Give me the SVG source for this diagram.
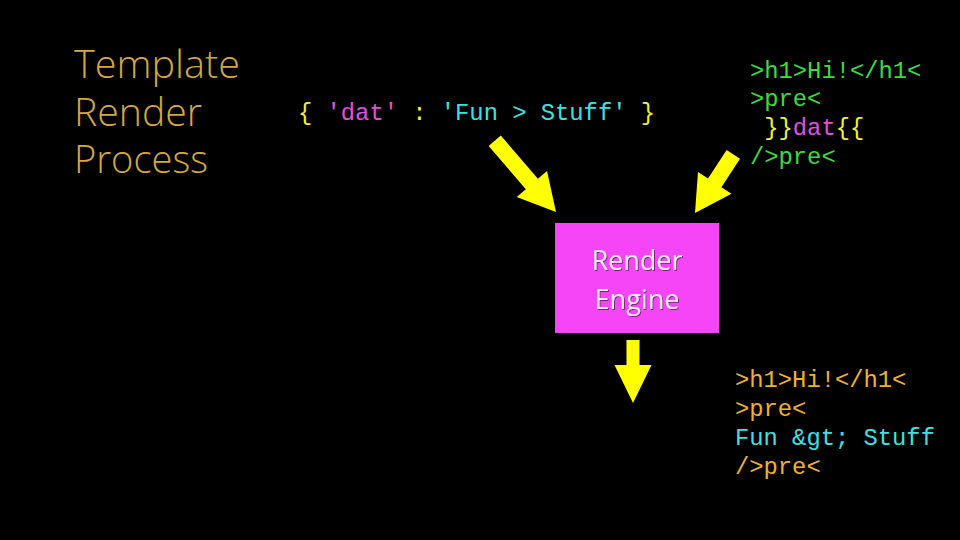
<svg xmlns="http://www.w3.org/2000/svg" width="960" height="540" viewBox="0 0 960 540">
<style>
.title{font-family:"Open Sans","Noto Sans",sans-serif;font-weight:300;font-size:39px;fill:#d4a83c}
.code{font-family:"Liberation Mono","DejaVu Sans Mono",monospace;font-size:23.8px}
.y{fill:#f0f03c}.p{fill:#e050e0}.c{fill:#40e0e0}.g{fill:#3cdc3c}.o{fill:#f0b030}
.box{fill:#f645f6}
.bt{font-family:"Open Sans","Noto Sans",sans-serif;font-size:27px;fill:#f8e8f8;text-anchor:middle}
.arrow{fill:#ffff00}
</style>
<defs>
<filter id="sh" x="-10%" y="-10%" width="120%" height="130%"><feDropShadow dx="1" dy="1" stdDeviation="0.6" flood-color="#000" flood-opacity="0.5"/></filter>
</defs>
<rect width="960" height="540" fill="#000"/>
<g id="title">
<text class="title" x="74" y="78" textLength="166" lengthAdjust="spacingAndGlyphs">Template</text>
<text class="title" x="74" y="126" textLength="128" lengthAdjust="spacingAndGlyphs">Render</text>
<text class="title" x="74" y="173" textLength="134" lengthAdjust="spacingAndGlyphs">Process</text>
</g>
<g id="data">
<text class="code" x="298" y="120" xml:space="preserve"><tspan class="y">{ </tspan><tspan class="p">'dat'</tspan><tspan class="y"> : </tspan><tspan class="c">'Fun &gt; Stuff'</tspan><tspan class="y"> }</tspan></text>
</g>
<g id="template">
<text class="code g" x="750" y="78">&gt;h1&gt;Hi!&lt;/h1&lt;</text>
<text class="code g" x="750" y="106">&gt;pre&lt;</text>
<text class="code" x="750" y="135" xml:space="preserve"><tspan class="y"> }}</tspan><tspan class="p">dat</tspan><tspan class="y">{{</tspan></text>
<text class="code g" x="750" y="164">/&gt;pre&lt;</text>
</g>
<g id="engine">
<rect class="box" x="555" y="223" width="164" height="110"/>
<text class="bt" x="637" y="270" filter="url(#sh)">Render</text>
<text class="bt" x="637" y="309" filter="url(#sh)">Engine</text>
</g>
<g id="output">
<text class="code o" x="735" y="387">&gt;h1&gt;Hi!&lt;/h1&lt;</text>
<text class="code o" x="735" y="416">&gt;pre&lt;</text>
<text class="code c" x="735" y="445">Fun &amp;gt; Stuff</text>
<text class="code o" x="735" y="474">/&gt;pre&lt;</text>
</g>
<g id="connectors">
<polygon class="arrow" transform="translate(556,212) rotate(-40.7)" points="0,0 20,-37 8,-37 8,-94 -8,-94 -8,-37 -20,-37"/>
<polygon class="arrow" transform="translate(695,213) rotate(33.2)" points="0,0 20,-36 8,-36 8,-70 -8,-70 -8,-36 -20,-36"/>
<polygon class="arrow" transform="translate(633,403)" points="0,0 18.5,-38 6.5,-38 6.5,-63 -6.5,-63 -6.5,-38 -18.5,-38"/>
</g>
</svg>
